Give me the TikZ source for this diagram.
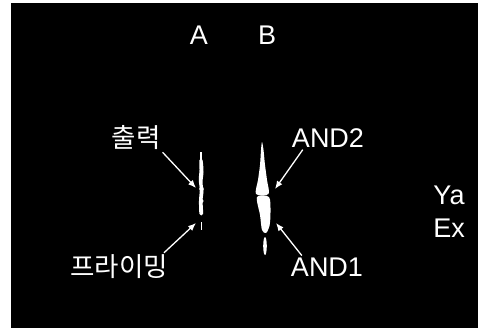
\documentclass[tikz,border=0pt]{standalone}
\usepackage{fontspec}
\setmainfont{Liberation Sans}
\newfontfamily\krfont{Noto Sans CJK KR}
\usetikzlibrary{arrows.meta}

\begin{document}
\begin{tikzpicture}[
                x=1pt, y=-1pt,
                lbl/.style={text=white, font=\fontsize{27}{27}\selectfont,
                            text depth=0pt, inner sep=2pt},
                krlbl/.style={text=white, font=\krfont\fontsize{26.5}{26.5}\selectfont,
                              inner sep=2pt},
                pointer/.style={draw=white, line width=1.3pt,
                                -{Latex[length=8pt,width=6.5pt]}},
                band/.style={fill=white, draw=none}
            ]
                \useasboundingbox[fill=white] (0,0) rectangle (478,329);
                \fill[black] (11,3) rectangle (478,328);

                \node[lbl] (laneA) at (199,35) {A};
                \node[lbl] (laneB) at (267,35) {B};

                \fill[band] (200.3,152) rectangle (201.8,162);
                \fill[band] plot[smooth cycle] coordinates {(199.5,160) (202.5,160) (203.5,172) (202.5,182) (203.5,192) (202.5,200) (203,214) (199.5,214) (199,200) (199.8,190) (198.8,180) (199.5,170)};
                \fill[band] (201.5,189) circle (2.3);
                \fill[band] (201.5,201) circle (2);
                \fill[band] (200.8,222) rectangle (202.4,230);

                \fill[band] plot[smooth cycle] coordinates {(262,142) (263.5,150) (265,165) (267,180) (268.5,194) (256,194) (258,180) (260,165) (261,150)};
                \fill[band] plot[smooth cycle] coordinates {(257,197) (269,197) (270.5,212) (269.5,226) (266,233) (262,230) (260,215)};
                \fill[band] (265,246) ellipse (1.8 and 9);

                \coordinate (outtip) at (196,188);
                \coordinate (primetip) at (196,223);
                \coordinate (and2tip) at (275,189);
                \coordinate (and1tip) at (276,223);

                \node[krlbl] (out) at (136,138) {출력};
                \node[krlbl] (prime) at (119,267) {프라이밍};
                \node[lbl] (and2) at (328,138) {AND2};
                \node[lbl] (and1) at (327,267) {AND1};
                \node[lbl] (ya) at (449,195) {Ya};
                \node[lbl] (ex) at (449,228) {Ex};

                \draw[pointer] (out.south east) -- (outtip);
                \draw[pointer] ([xshift=-6pt]prime.north east) -- (primetip);
                \draw[pointer] ([xshift=13pt]and2.south west) -- (and2tip);
                \draw[pointer] ([xshift=13pt]and1.north west) -- (and1tip);
            \end{tikzpicture}
\end{document}
